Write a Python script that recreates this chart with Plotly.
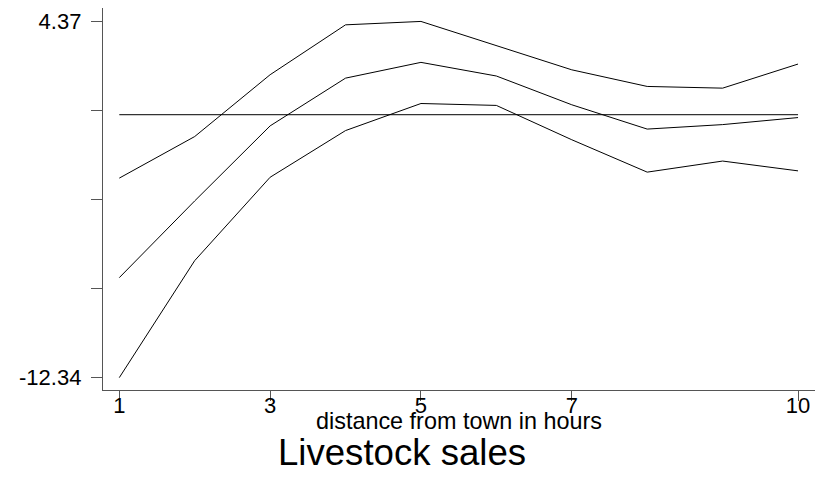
import plotly.graph_objects as go

# Data
distance = [1, 2, 3, 4, 5, 6, 7, 8, 9, 10]
upper_bound = [-2.98, -1.03, 1.87, 4.21, 4.37, 3.23, 2.10, 1.32, 1.24, 2.37]
estimate = [-7.65, -4.05, -0.53, 1.71, 2.45, 1.81, 0.46, -0.68, -0.47, -0.14]
lower_bound = [-12.34, -6.85, -2.94, -0.75, 0.52, 0.43, -1.18, -2.70, -2.18, -2.64]
zero_line = [0, 0, 0, 0, 0, 0, 0, 0, 0, 0]

x_tickvals = [1, 3, 5, 7, 10]
x_ticktext = ["1", "3", "5", "7", "10"]
y_tickvals = [4.37, 0.1925, -3.985, -8.1625, -12.34]
y_ticktext = ["4.37", "", "", "", "-12.34"]

FONT = "Liberation Sans, Arial, sans-serif"

# The page body has an 8px default margin; figure is sized so it fills the window.
W, H = 824, 469
ML, MR, MT, MB = 95, 17, 0, 87
PW, PH = W - ML - MR, H - MT - MB

def px_to_paper(px, py):
    """Convert page-pixel position (window coords) to paper coords."""
    fx, fy = px - 8, py - 8
    return (fx - ML) / PW, (H - MB - fy) / PH

fig = go.Figure()
for ys, col, w in [(zero_line, "#333333", 1.3), (upper_bound, "black", 1),
                   (estimate, "black", 1), (lower_bound, "black", 1)]:
    fig.add_trace(go.Scatter(x=distance, y=ys, mode="lines",
                             line=dict(color=col, width=w), showlegend=False,
                             hoverinfo="skip"))

xt_x, xt_y = px_to_paper(459, 421)
tt_x, tt_y = px_to_paper(402, 452)

fig.update_layout(
    width=W, height=H,
    margin=dict(l=ML, r=MR, t=MT, b=MB, autoexpand=False),
    paper_bgcolor="white", plot_bgcolor="white",
    font=dict(family=FONT, color="black"),
    xaxis=dict(range=[0.784, 10.225], tickvals=x_tickvals, ticktext=x_ticktext,
               showgrid=False, zeroline=False, showline=True, linecolor="#555555",
               linewidth=1.3, ticks="outside", ticklen=10, tickcolor="#555555",
               tickfont=dict(size=22, family=FONT), ticklabelstandoff=-15,
               automargin=False),
    yaxis=dict(range=[-12.92, 5.0], tickvals=y_tickvals, ticktext=y_ticktext,
               showgrid=False, zeroline=False, showline=True, linecolor="#555555",
               linewidth=1.3, ticks="outside", ticklen=11, tickcolor="#555555",
               tickfont=dict(size=22, family=FONT), ticklabelstandoff=5,
               automargin=False),
    annotations=[
        dict(text="distance from town in hours", x=xt_x, y=xt_y, xref="paper", yref="paper",
             xanchor="center", yanchor="middle", showarrow=False,
             font=dict(size=23.4, family=FONT)),
        dict(text="Livestock sales", x=tt_x, y=tt_y, xref="paper", yref="paper",
             xanchor="center", yanchor="middle", showarrow=False,
             font=dict(size=36.6, family=FONT)),
    ],
)

fig.write_html("out.html")
